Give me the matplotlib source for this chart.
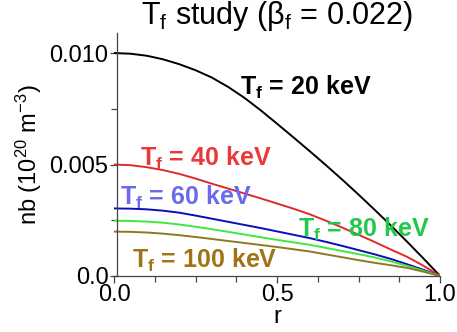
import numpy as np
import matplotlib
matplotlib.use("Agg")
import matplotlib.pyplot as plt
from matplotlib.ticker import MultipleLocator

plt.rcParams['font.family'] = ['Liberation Sans', 'DejaVu Sans']
plt.rcParams['mathtext.fontset'] = 'custom'
plt.rcParams['mathtext.rm'] = 'Liberation Sans'
plt.rcParams['mathtext.bf'] = 'Liberation Sans:bold'
plt.rcParams['mathtext.default'] = 'regular'

# radial profiles of the beam density (units of 1e20 m^-3, scaled by 1e3 here)
r = [0.0, 0.05, 0.1, 0.15, 0.2, 0.25, 0.3, 0.35, 0.4, 0.45, 0.5,
     0.55, 0.6, 0.65, 0.7, 0.75, 0.8, 0.85, 0.9, 0.95, 1.0]
nb_20 = [10.00, 9.97, 9.88, 9.72, 9.50, 9.23, 8.90, 8.48, 7.99, 7.43, 6.83,
         6.22, 5.60, 4.97, 4.32, 3.65, 2.96, 2.25, 1.52, 0.77, 0.0]
nb_40 = [5.00, 4.97, 4.88, 4.75, 4.58, 4.37, 4.14, 3.92, 3.70, 3.48, 3.25,
         3.02, 2.77, 2.48, 2.17, 1.85, 1.52, 1.18, 0.85, 0.45, 0.0]
nb_60 = [3.03, 3.02, 2.99, 2.93, 2.84, 2.71, 2.57, 2.43, 2.29, 2.15, 2.00,
         1.85, 1.70, 1.53, 1.35, 1.16, 0.97, 0.76, 0.52, 0.27, 0.0]
nb_80 = [2.48, 2.47, 2.44, 2.39, 2.31, 2.21, 2.10, 1.98, 1.86, 1.74, 1.62,
         1.51, 1.40, 1.26, 1.12, 0.98, 0.83, 0.65, 0.45, 0.23, 0.0]
nb_100 = [1.99, 1.98, 1.95, 1.90, 1.83, 1.75, 1.66, 1.57, 1.48, 1.39, 1.30,
          1.20, 1.10, 0.97, 0.84, 0.71, 0.59, 0.48, 0.36, 0.19, 0.0]

temps = ['20', '40', '60', '80', '100']
profiles = [nb_20, nb_40, nb_60, nb_80, nb_100]
line_colours = ['#000000', '#e02a2a', '#0c0cb8', '#3ee83e', '#8c7a22']
label_colours = ['#000000', '#e83a3a', '#6a6aee', '#22c84a', '#a07414']
# where each curve's label sits (r, nb at baseline)
label_pos = [(0.387, 0.00812), (0.080, 0.00495), (0.018, 0.00318),
             (0.564, 0.00177), (0.055, 0.00038)]

xtick_vals = [0.0, 0.5, 1.0]
xtick_labels = ['0.0', '0.5', '1.0']
ytick_vals = [0.0, 0.005, 0.010]
ytick_labels = ['0.0', '0.005', '0.010']

fig = plt.figure(figsize=(4.57, 3.32), dpi=100)
ax = fig.add_axes([0.2495, 0.1687, 0.7135, 0.732])

for nb, c in zip(profiles, line_colours):
    ax.plot(r, np.array(nb) * 1e-3, color=c, linewidth=1.4)

for t, (x, y), c in zip(temps, label_pos, label_colours):
    ax.text(x, y, r'T$_{\mathbf{f}}$ = ' + t + ' keV', color=c, fontsize=18,
            fontweight='bold', va='baseline', ha='left')

ax.set_xlim(0, 1)
ax.set_ylim(0, 0.0109)
ax.set_xticks(xtick_vals)
ax.set_xticklabels(xtick_labels)
ax.set_yticks(ytick_vals)
ax.set_yticklabels(ytick_labels)
ax.xaxis.set_minor_locator(MultipleLocator(0.125))
ax.yaxis.set_minor_locator(MultipleLocator(0.0025))

for side in ['top', 'right']:
    ax.spines[side].set_visible(False)
for side in ['left', 'bottom']:
    ax.spines[side].set_color('#444444')
    ax.spines[side].set_linewidth(0.9)
ax.spines['left'].set_position(('data', 0.009))

ax.tick_params(which='major', direction='out', length=5, width=0.9,
               color='#444444', labelsize=17, pad=1)
ax.tick_params(which='minor', direction='out', length=4, width=0.9,
               color='#444444')

ax.set_xlabel('r', fontsize=17, labelpad=0)
ax.set_ylabel(r'nb (10$^{20}$ m$^{-3}$)', fontsize=17, labelpad=4)
ax.set_title(r'T$_{f}$ study (β$_{f}$ = 0.022)', fontsize=22, pad=6)

fig.savefig('out.png', dpi=100)
